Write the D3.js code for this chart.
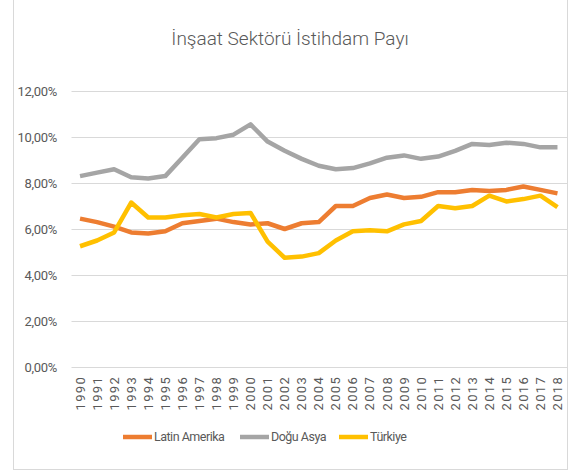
<!DOCTYPE html>
<html>
<head>
<meta charset="utf-8">
<script src="https://cdn.jsdelivr.net/npm/d3@7"></script>
<style>
  body { margin: 0; background: #fff; }
  text { font-family: "Roboto", "Liberation Sans", sans-serif; fill: #595959; }
</style>
</head>
<body>
<div id="vis"></div>
<script>
const WIDTH = 580;
const HEIGHT = 471;

const YEARS = ["1990","1991","1992","1993","1994","1995","1996","1997","1998","1999",
  "2000","2001","2002","2003","2004","2005","2006","2007","2008","2009",
  "2010","2011","2012","2013","2014","2015","2016","2017","2018"];

const LATIN_AMERIKA = [6.45, 6.3, 6.1, 5.85, 5.8, 5.9, 6.25, 6.35, 6.45, 6.3,
  6.2, 6.25, 6.0, 6.25, 6.3, 7.0, 7.0, 7.35, 7.5, 7.35,
  7.4, 7.6, 7.6, 7.7, 7.65, 7.7, 7.85, 7.7, 7.55];

const DOGU_ASYA = [8.3, 8.45, 8.6, 8.25, 8.2, 8.3, 9.1, 9.9, 9.95, 10.1,
  10.55, 9.8, 9.4, 9.05, 8.75, 8.6, 8.65, 8.85, 9.1, 9.2,
  9.05, 9.15, 9.4, 9.7, 9.65, 9.75, 9.7, 9.55, 9.55];

const TURKIYE = [5.25, 5.5, 5.85, 7.15, 6.5, 6.5, 6.6, 6.65, 6.5, 6.65,
  6.7, 5.45, 4.75, 4.8, 4.95, 5.5, 5.9, 5.95, 5.9, 6.2,
  6.35, 7.0, 6.9, 7.0, 7.45, 7.2, 7.3, 7.45, 6.95];

const Y_TICKS = [0, 2, 4, 6, 8, 10, 12];

const SERIES = [
  { name: "Latin Amerika", values: LATIN_AMERIKA, color: "#ED7D31" },
  { name: "Doğu Asya", values: DOGU_ASYA, color: "#A5A5A5" },
  { name: "Türkiye", values: TURKIYE, color: "#FFC000" }
];

const SVG = d3.select("#vis").append("svg")
  .attr("width", WIDTH).attr("height", HEIGHT);

// cerceve
SVG.append("rect")
  .attr("x", 13.5).attr("y", -1)
  .attr("width", 554).attr("height", 470.5)
  .attr("fill", "none")
  .attr("stroke", "#d9d9d9");

const escalaX = d3.scaleBand()
  .domain(YEARS)
  .range([71.5, 566]);

const escalaY = d3.scaleLinear()
  .domain([0, 12])
  .range([367, 91]);

// grilla
SVG.append("g")
  .selectAll("line")
  .data(Y_TICKS)
  .join("line")
  .attr("x1", 71.5)
  .attr("x2", 567)
  .attr("y1", d => Math.round(escalaY(d)) + 0.5)
  .attr("y2", d => Math.round(escalaY(d)) + 0.5)
  .attr("stroke", "#d9d9d9")
  .attr("stroke-width", 1);

const formato = d => d.toFixed(2).replace(".", ",") + "%";

SVG.append("g")
  .selectAll("text")
  .data(Y_TICKS)
  .join("text")
  .attr("x", 57)
  .attr("y", d => escalaY(d))
  .attr("dy", "0.35em")
  .attr("text-anchor", "end")
  .attr("font-size", 13)
  .attr("letter-spacing", -0.3)
  .text(formato);

// etiquetas eje x
SVG.append("g")
  .selectAll("text")
  .data(YEARS)
  .join("text")
  .attr("transform", d => `translate(${escalaX(d) + escalaX.bandwidth() / 2}, 376) rotate(-90)`)
  .attr("text-anchor", "end")
  .attr("dy", "0.35em")
  .attr("font-size", 13)
  .attr("letter-spacing", 1.3)
  .text(d => d);

// lineas
const linea = d3.line()
  .x((d, i) => escalaX(YEARS[i]) + escalaX.bandwidth() / 2)
  .y(d => escalaY(d));

SVG.append("g")
  .selectAll("path")
  .data(SERIES)
  .join("path")
  .attr("d", d => linea(d.values))
  .attr("fill", "none")
  .attr("stroke", d => d.color)
  .attr("stroke-width", 4.5)
  .attr("stroke-linejoin", "round");

// titulo
SVG.append("text")
  .attr("x", 290)
  .attr("y", 45)
  .attr("text-anchor", "middle")
  .attr("font-size", 19)
  .attr("font-weight", 300)
  .text("İnşaat Sektörü İstihdam Payı");

// leyenda
const LEYENDA_X = [123, 240, 339];
const leyenda = SVG.append("g")
  .selectAll("g")
  .data(SERIES)
  .join("g")
  .attr("transform", (d, i) => `translate(${LEYENDA_X[i]}, 437)`);

leyenda.append("line")
  .attr("x1", 0).attr("x2", 29)
  .attr("y1", 0).attr("y2", 0)
  .attr("stroke", d => d.color)
  .attr("stroke-width", 4.5);

leyenda.append("text")
  .attr("x", 31)
  .attr("dy", "0.35em")
  .attr("font-size", 12.5)
  .attr("letter-spacing", -0.5)
  .text(d => d.name);
</script>
</body>
</html>
